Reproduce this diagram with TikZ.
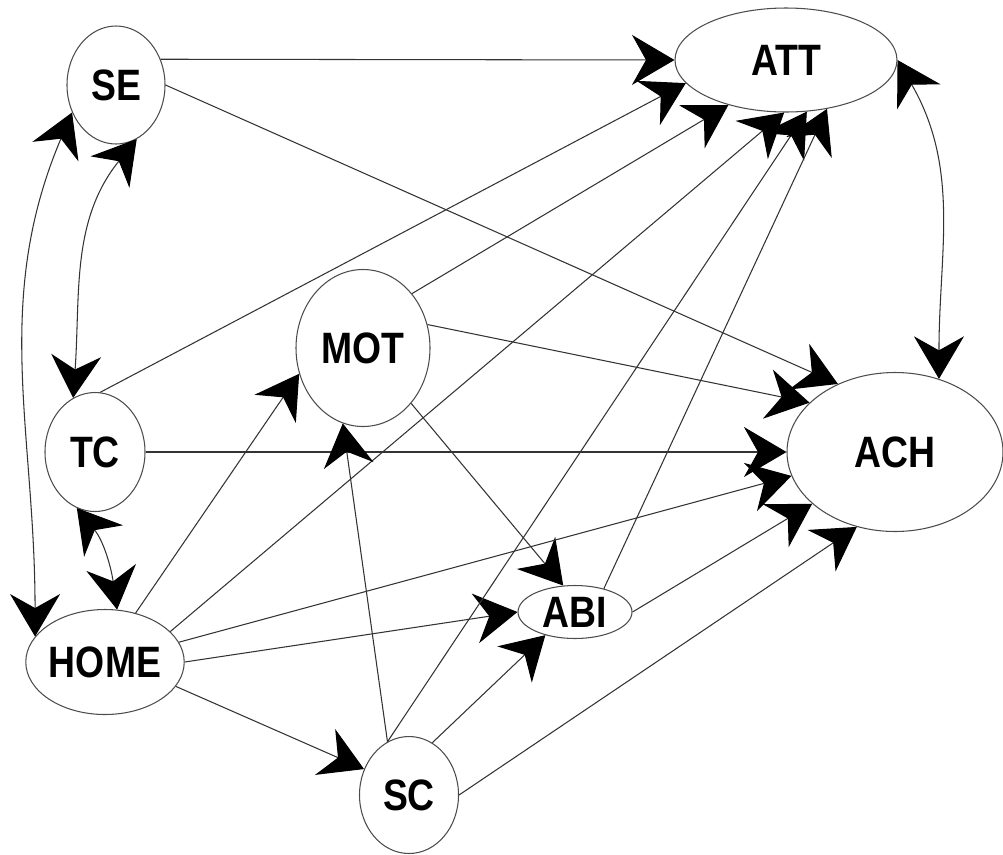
\documentclass[tikz,border=0pt]{standalone}
\usepackage{fontspec}
\newfontfamily\varfont[FakeStretch=0.85]{Liberation Sans}
\usetikzlibrary{arrows.meta,positioning,shapes.geometric}

\begin{document}
\begin{tikzpicture}[>={Stealth[length=8.5mm,width=10mm,inset=2.8mm,color=black]}, on grid]
        \tikzset{var/.style={draw=black!70,
                line width=0.6pt,
                shape=ellipse,
                align=center,
                inner sep=0pt,
                font=\varfont\bfseries\fontsize{25}{30}\selectfont
            },
            link/.style={draw=black!80, line width=0.6pt},
        }
        \useasboundingbox (0,0) rectangle (20.06,-17.08);
        \node [var, minimum width=1.96cm, minimum height=2.36cm] (SE) at (2.32,-1.70)
            {SE};
        \node [var, minimum width=4.44cm, minimum height=2.08cm,
            above right =0.50cm and 13.40cm of SE] (ATT)
            {ATT};
        \node [var, minimum width=2.00cm, minimum height=2.38cm,
            below left =7.34cm and 0.42cm of SE] (TC)
            {TC};
        \node [var, minimum width=3.12cm, minimum height=2.10cm,
            below right =4.20cm and 0.20cm of TC] (HOME)
            {HOME};
        \node [var, minimum width=2.68cm, minimum height=3.14cm,
            above right =2.08cm and 5.36cm of TC] (MOT)
            {MOT};
        \node [var, minimum width=4.32cm, minimum height=3.18cm,
            right =16cm of TC] (ACH)
            {ACH};
        \node [var, minimum width=2.28cm, minimum height=1.06cm,
            above right =1.00cm and 9.40cm of HOME] (ABI)
            {ABI};
        \node [var, minimum width=1.98cm, minimum height=2.34cm,
            below right =2.66cm and 6.08cm of HOME] (SC)
            {SC};
%% paths
\path[every edge/.append style={link,->}]
    (SE.30) edge (ATT.west)
    (SE.east) edge (ACH.130)
    (TC.85) edge (ATT.193)
    (TC.east) edge (ACH.west)
    (MOT.48) edge (ATT.218)
    (MOT.20) edge (ACH.150)
    (MOT.311) edge (ABI.114)
    (HOME.58) edge (MOT.202)
    (HOME.25) edge (ATT.268)
    (HOME.15) edge (ACH.193)
    (HOME.east) edge (ABI.west)
    (HOME.341) edge (SC.150)
    (SC.112) edge (MOT.255)
    (SC.112) edge (ATT.292)
    (SC.66) edge (ABI.218)
    (SC.east) edge (ACH.243)
    (ABI.39) edge (ATT.310)
    (ABI.east) edge (ACH.212)
;
%% two-way paths
\path[every edge/.append style={link,<->}]
    (ATT.east) edge[out=-60, in=90] (ACH.59)
    (SE.291) edge[out=231, in=86] (TC.112)
    (SE.212) edge[out=247, in=90] (HOME.160)
    (TC.252) edge[out=-51, in=98] (HOME.77)
;
\end{tikzpicture}
\end{document}
